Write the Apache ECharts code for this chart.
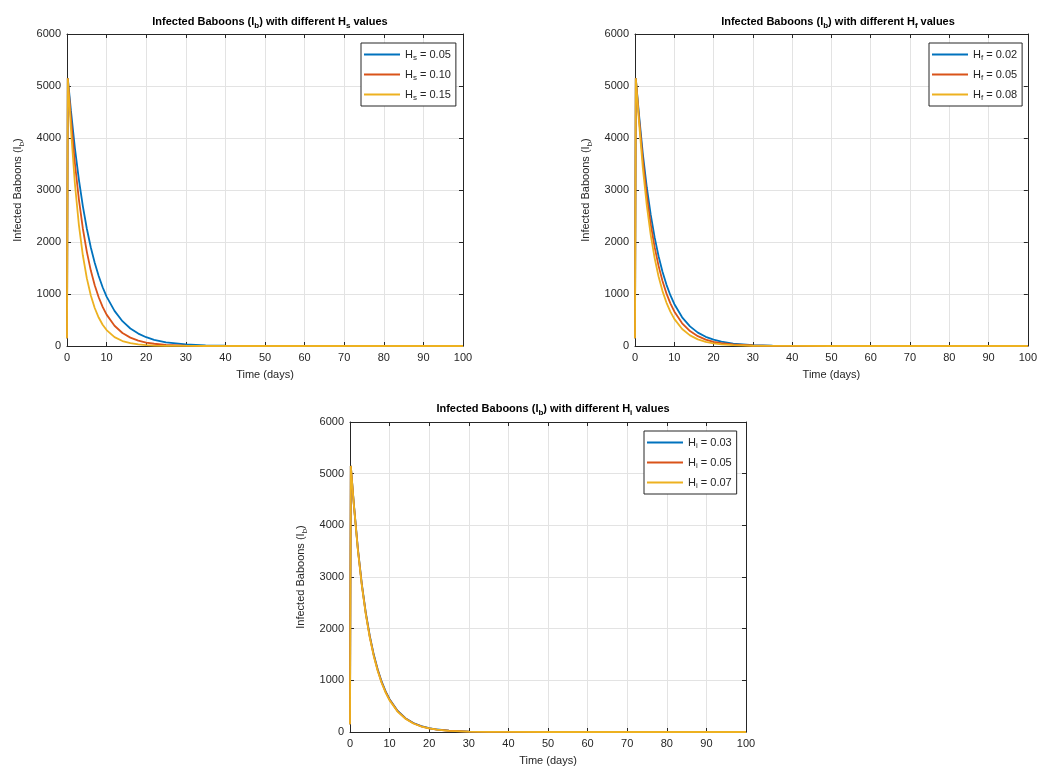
<!DOCTYPE html>
<html>
<head>
<meta charset="utf-8">
<script src="https://cdn.jsdelivr.net/npm/echarts@6/dist/echarts.min.js"></script>
<style>
  html, body { margin: 0; padding: 0; background: #fff; }
  #chart { width: 1040px; height: 771px; }
</style>
</head>
<body>
<div id="chart"></div>
<script>
// time points (days)
const tDays = [0, 0.2, 1, 2, 3, 4, 5, 6, 7, 8, 9, 10, 12, 14, 16, 18, 20, 22, 25, 30, 35, 40, 50, 60, 70, 80, 90, 100]

// panel 1: different H_s
const hs005 = [150, 5150, 4520, 3800, 3200, 2690, 2260, 1900, 1600, 1345, 1130, 950, 675, 477, 337, 239, 169, 119, 71, 30, 12, 5, 1, 0, 0, 0, 0, 0]
const hs010 = [150, 5150, 4370, 3510, 2820, 2260, 1815, 1455, 1168, 937, 752, 603, 389, 250, 161, 104, 67, 43, 22, 7, 2, 1, 0, 0, 0, 0, 0, 0]
const hs015 = [150, 5150, 4165, 3115, 2330, 1745, 1305, 976, 731, 547, 409, 306, 171, 96, 54, 30, 17, 9, 4, 1, 0, 0, 0, 0, 0, 0, 0, 0]

// panel 2: different H_f
const hf002 = [150, 5150, 4465, 3690, 3053, 2525, 2088, 1727, 1428, 1181, 977, 808, 552, 378, 258, 177, 121, 83, 47, 18, 7, 3, 0, 0, 0, 0, 0, 0]
const hf005 = [150, 5150, 4403, 3569, 2893, 2345, 1901, 1541, 1249, 1012, 821, 665, 437, 287, 189, 124, 81, 54, 29, 10, 3, 1, 0, 0, 0, 0, 0, 0]
const hf008 = [150, 5150, 4327, 3420, 2705, 2138, 1690, 1336, 1056, 835, 660, 522, 326, 204, 127, 80, 50, 31, 16, 5, 2, 1, 0, 0, 0, 0, 0, 0]

// panel 3: different H_i
const hi003 = [150, 5150, 4387, 3539, 2855, 2303, 1858, 1498, 1208, 974, 786, 634, 412, 268, 174, 113, 74, 48, 25, 9, 3, 1, 0, 0, 0, 0, 0, 0]
const hi005 = [150, 5150, 4380, 3527, 2840, 2287, 1842, 1483, 1194, 961, 774, 623, 404, 262, 169, 110, 71, 46, 24, 8, 3, 1, 0, 0, 0, 0, 0, 0]
const hi007 = [150, 5150, 4372, 3515, 2826, 2271, 1826, 1468, 1180, 949, 762, 612, 396, 256, 165, 106, 69, 44, 23, 8, 2, 1, 0, 0, 0, 0, 0, 0]

const xTicks = { min: 0, max: 100, interval: 10 }
const yTicks = { min: 0, max: 6000, interval: 1000 }

const colors = ['#0072BD', '#D95319', '#EDB120']
const FONT = '"Liberation Sans", Arial, Helvetica, sans-serif'
const INK = '#262626'

const panels = [
  { sub: 's', grid: { left: 67, top: 34, width: 396, height: 312 }, titleX: 265, titleY: 10, legend: { left: 361, top: 43 },
    names: ['0.05', '0.10', '0.15'], values: [hs005, hs010, hs015] },
  { sub: 'f', grid: { left: 635, top: 34, width: 396, height: 312 }, titleX: 833, titleY: 10, legend: { left: 929, top: 43 },
    names: ['0.02', '0.05', '0.08'], values: [hf002, hf005, hf008] },
  { sub: 'i', grid: { left: 350, top: 422, width: 396, height: 310 }, titleX: 548, titleY: 397, legend: { left: 644, top: 431 },
    names: ['0.03', '0.05', '0.07'], values: [hi003, hi005, hi007] },
]

const rich = {
  n: { fontSize: 11, fontFamily: FONT, color: INK, lineHeight: 14 },
  s: { fontSize: 8, fontFamily: FONT, color: INK, lineHeight: 8, padding: [7, 0, 0, 0] },
  b: { fontSize: 11, fontFamily: FONT, color: '#000', fontWeight: 'bold', lineHeight: 14 },
  bs: { fontSize: 8, fontFamily: FONT, color: '#000', fontWeight: 'bold', lineHeight: 8, padding: [7, 0, 0, 0] },
}

const axisLine = { show: true, onZero: false, lineStyle: { color: INK, width: 1 } }
const axisTick = { show: true, inside: true, length: 4, lineStyle: { color: INK } }

const grids = [], xAxes = [], yAxes = [], titles = [], legends = [], series = []

panels.forEach((p, i) => {
  grids.push(Object.assign({ containLabel: false }, p.grid))

  titles.push({
    text: `{b|Infected Baboons (I}{bs|b}{b|) with different H}{bs|${p.sub}}{b| values}`,
    left: p.titleX, top: p.titleY, textAlign: 'center',
    textStyle: { rich },
  })

  // bottom + top x axes (box style)
  xAxes.push({
    type: 'value', gridIndex: i, position: 'bottom', ...xTicks,
    name: 'Time (days)', nameLocation: 'middle', nameGap: 23,
    nameTextStyle: { fontSize: 11, fontFamily: FONT, color: INK },
    axisLine, axisTick,
    axisLabel: { fontSize: 11, fontFamily: FONT, color: INK, margin: 6 },
    splitLine: { show: true, lineStyle: { color: '#e3e3e3', width: 1 } },
  })
  xAxes.push({
    type: 'value', gridIndex: i, position: 'top', ...xTicks,
    axisLine, axisTick,
    axisLabel: { show: false }, splitLine: { show: false },
  })

  // left + right y axes
  yAxes.push({
    type: 'value', gridIndex: i, position: 'left', ...yTicks,
    name: '{n|Infected Baboons (I}{s|b}{n|)}', nameLocation: 'middle', nameGap: 42,
    nameTextStyle: { rich },
    axisLine, axisTick,
    axisLabel: { fontSize: 11, fontFamily: FONT, color: INK, margin: 6, formatter: v => String(v) },
    splitLine: { show: true, lineStyle: { color: '#e3e3e3', width: 1 } },
  })
  yAxes.push({
    type: 'value', gridIndex: i, position: 'right', ...yTicks,
    axisLine, axisTick,
    axisLabel: { show: false }, splitLine: { show: false },
  })

  const names = p.names.map(v => `H${p.sub}=${v}`)
  legends.push({
    data: names, left: p.legend.left, top: p.legend.top, orient: 'vertical',
    backgroundColor: '#fff', borderColor: INK, borderWidth: 1, borderRadius: 0,
    padding: [4, 5, 4, 3], itemGap: 5, itemWidth: 36, itemHeight: 2, icon: 'rect',
    formatter: name => `{n|H}{s|${p.sub}}{n| = ${name.split('=')[1]}}`,
    textStyle: { rich },
  })

  p.values.forEach((vals, k) => {
    series.push({
      name: names[k], type: 'line', xAxisIndex: i * 2, yAxisIndex: i * 2,
      data: tDays.map((t, j) => [t, vals[j]]),
      showSymbol: false, symbol: 'none',
      lineStyle: { color: colors[k], width: 1.8 },
      itemStyle: { color: colors[k] },
      z: 2 + k,
    })
  })
})

const chart = echarts.init(document.getElementById('chart'))
chart.setOption({
  animation: false,
  backgroundColor: '#fff',
  title: titles, grid: grids, xAxis: xAxes, yAxis: yAxes, legend: legends, series,
})
</script>
</body>
</html>
